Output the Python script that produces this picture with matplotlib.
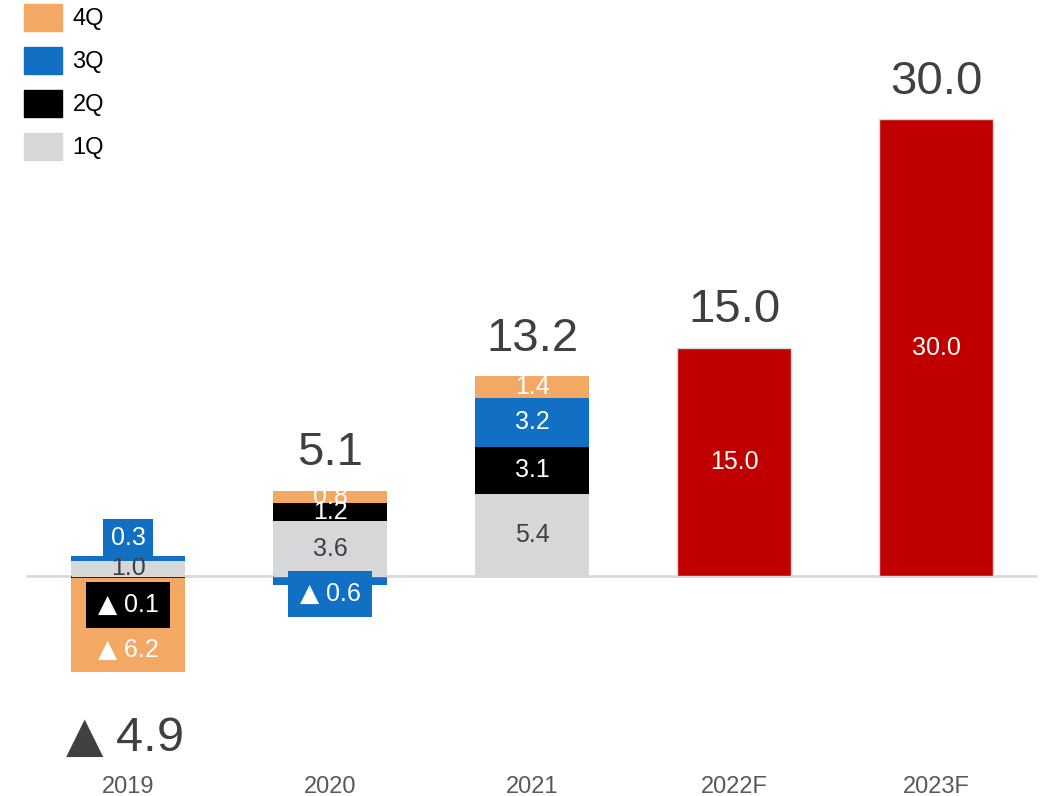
import numpy as np
import matplotlib.pyplot as plt
from matplotlib.patches import Patch

plt.rcParams['font.family'] = ['Liberation Sans', 'DejaVu Sans']
plt.rcParams['mathtext.fontset'] = 'dejavusans'

# data
years = ['2019', '2020', '2021', '2022F', '2023F']
q1 = [1.0, 3.6, 5.4, 0, 0]
q2 = [-0.1, 1.2, 3.1, 0, 0]
q3 = [0.3, -0.6, 3.2, 0, 0]
q4 = [-6.2, 0.8, 1.4, 0, 0]
forecast = [0, 0, 0, 15.0, 30.0]
totals = [-4.9, 5.1, 13.2, 15.0, 30.0]

c_q1 = '#D6D7D9'
c_q2 = '#000000'
c_q3 = '#1170C4'
c_q4 = '#F3A864'
c_fc = '#C00000'
txt = '#404040'

fig = plt.figure(figsize=(10.46, 7.96), dpi=100)
ax = fig.add_axes([0, 26 / 796, 1, 770 / 796])

x = np.arange(len(years))
w = 0.56
px = 15.23  # pixels per unit
ax.set_xlim(-128 / 202, (1046 - 128) / 202)
ax.set_ylim(-(770 - 576) / px, 576 / px)

def fmt(v):
    # negative numbers are written with a triangle
    return f'{abs(v):.1f}' if v >= 0 else f'$\u25b2$ {abs(v):.1f}'

# stack positives upward, negatives downward
pos = np.zeros(len(years))
neg = np.zeros(len(years))
series = [(q1, c_q1, txt), (q2, c_q2, 'white'), (q3, c_q3, 'white'), (q4, c_q4, 'white')]
segs = {}
for qi, (vals, col, tcol) in enumerate(series):
    vals = np.array(vals)
    base = np.where(vals >= 0, pos, neg)
    ax.bar(x, vals, w, bottom=base, color=col, linewidth=0, zorder=2)
    for i, v in enumerate(vals):
        if v != 0:
            segs[(i, qi)] = (base[i], base[i] + v)
    pos = pos + np.where(vals >= 0, vals, 0)
    neg = neg + np.where(vals < 0, vals, 0)

ax.bar(x, forecast, w, color=c_fc, edgecolor='#D9D9D9', linewidth=1, zorder=2)
for i, v in enumerate(forecast):
    if v:
        ax.text(x[i], v / 2, f'{v:.1f}', ha='center', va='center', color='white',
                fontsize=18, zorder=4)

ax.axhline(0, xmin=27 / 1046, xmax=1036 / 1046, color='#D9D9D9', linewidth=2, zorder=1)

# segment labels (small segments get a boxed label outside the bar)
box_labels = {(0, 2): ('above', c_q3, 13, 0.3),
              (0, 1): ('below', c_q2, -21, 0.45),
              (1, 2): ('below', c_q3, -13, 0.45)}
shifted = {(0, 3): -18}
for (i, qi), (b, t) in segs.items():
    v = t - b
    tcol = series[qi][2]
    if (i, qi) in box_labels:
        where, col, off, pad = box_labels[(i, qi)]
        y = max(b, t) if where == 'above' else 0
        ax.annotate(fmt(v), (x[i], y), xytext=(0, off), textcoords='offset points',
                    ha='center', va='center', color='white', fontsize=18, zorder=5,
                    bbox=dict(boxstyle=f'square,pad={pad}', fc=col, ec='none'))
    else:
        ax.annotate(fmt(v), (x[i], (b + t) / 2), xytext=(0, shifted.get((i, qi), 0)),
                    textcoords='offset points', ha='center', va='center', color=tcol,
                    fontsize=18, zorder=4)

# totals
for i, tot in enumerate(totals):
    if tot >= 0:
        top = max(pos[i], forecast[i])
        ax.annotate(f'{tot:.1f}', (x[i], top), xytext=(0, 11), textcoords='offset points',
                    ha='center', va='bottom', color=txt, fontsize=34)
    else:
        ax.annotate(f'$\u25b2$ {abs(tot):.1f}', (x[i], neg[i]), xytext=(-3, -32),
                    textcoords='offset points', ha='center', va='top', color=txt, fontsize=35)

ax.set_xticks(x)
ax.set_xticklabels(years, fontsize=17, color='#595959')
ax.tick_params(axis='x', length=0, pad=4)
ax.set_yticks([])
for s in ax.spines.values():
    s.set_visible(False)

handles = [Patch(color=c_q4, label='4Q'), Patch(color=c_q3, label='3Q'),
           Patch(color=c_q2, label='2Q'), Patch(color=c_q1, label='1Q')]
fig.legend(handles=handles, loc='upper left', bbox_to_anchor=(24 / 1046, 1 - 4 / 796),
           frameon=False, fontsize=17, handlelength=1.6, handleheight=1.4,
           labelspacing=0.66, handletextpad=0.45, borderpad=0, borderaxespad=0)

fig.savefig('out.png', dpi=100)
